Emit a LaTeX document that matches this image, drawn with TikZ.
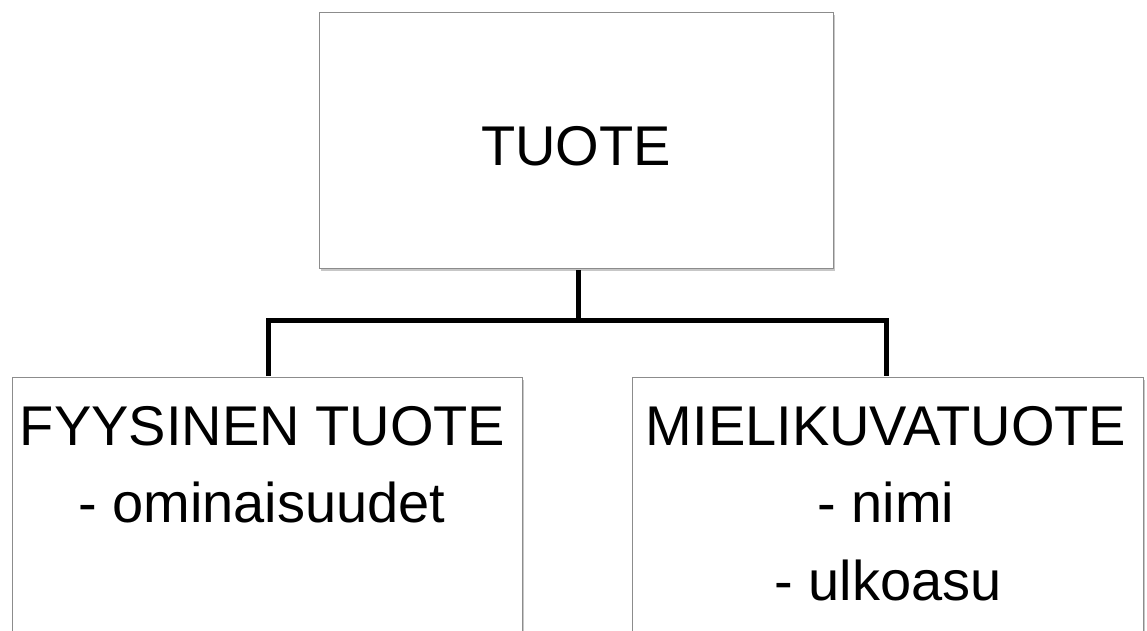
\documentclass[tikz,border=0pt]{standalone}
\usepackage{fontspec}
\setmainfont{Liberation Sans}
\usetikzlibrary{shadows}
\begin{document}
\begin{tikzpicture}[x=1pt,y=-1pt,
  box/.style={draw=black!45, line width=0.9pt, fill=white, inner sep=0pt},
  shbox/.style={box, drop shadow={shadow xshift=1.5pt, shadow yshift=-3pt, opacity=0.4, fill=black!55}},
  lbl/.style={font=\fontsize{56}{67}\selectfont, anchor=base, inner sep=0pt},
  conn/.style={line width=5pt, black}]
\useasboundingbox (0,0) rectangle (1147,630);
\clip (0,0) rectangle (1147,630);
\fill[white] (0,0) rectangle (1147,630);
\node[shbox, minimum width=514pt, minimum height=256pt] (top) at (576,140) {};
\node[shbox, minimum width=510pt, minimum height=323pt] (left) at (267,538.5) {};
\node[shbox, minimum width=511pt, minimum height=323pt] (right) at (887.5,538.5) {};
\coordinate (junc) at (578,320);
\draw[conn] (578,270) -- (junc);
\draw[conn] (268,376) |- (junc) -| (886,376);
\node[lbl] (t1) at (576,165) {TUOTE};
\node[lbl] (l1) at (262.5,445) {FYYSINEN TUOTE};
\node[lbl] (l2) at (262,522) {- ominaisuudet};
\node[lbl] (r1) at (886,445) {MIELIKUVATUOTE};
\node[lbl] (r2) at (886,522) {- nimi};
\node[lbl] (r3) at (888,600) {- ulkoasu};
\end{tikzpicture}
\end{document}
